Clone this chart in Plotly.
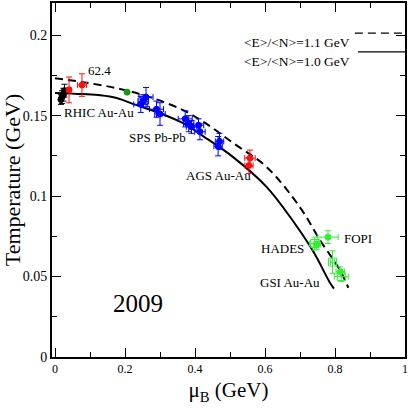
import plotly.graph_objects as go

# freeze-out curves
mu_e10 = [0.0, 0.08, 0.13, 0.176, 0.233, 0.30, 0.366, 0.425, 0.509, 0.605, 0.68, 0.738, 0.786, 0.797]
T_e10 = [0.1641, 0.1634, 0.1627, 0.161, 0.1565, 0.1515, 0.1453, 0.137, 0.1242, 0.1056, 0.0845, 0.0655, 0.046, 0.0425]

mu_e11 = [0.0, 0.08, 0.177, 0.271, 0.366, 0.43, 0.509, 0.605, 0.70, 0.757, 0.814, 0.838]
T_e11 = [0.1733, 0.1708, 0.167, 0.1615, 0.1534, 0.1453, 0.133, 0.118, 0.093, 0.0727, 0.054, 0.043]

# data points
mu_black = [0.017, 0.020, 0.024, 0.027]
T_black = [0.160, 0.1615, 0.163, 0.1655]
dT_black = [0.003, 0.004, 0.004, 0.004]

mu_rhic = [0.040, 0.077]
T_rhic = [0.166, 0.169]
dmu_rhic = [0.006, 0.013]
dT_rhic = [0.008, 0.007]

mu_dg = [0.206]
T_dg = [0.1646]

mu_sps = [0.245, 0.252, 0.26, 0.29, 0.30, 0.372, 0.382, 0.39, 0.41, 0.414, 0.47, 0.466]
T_sps = [0.157, 0.159, 0.1615, 0.154, 0.151, 0.148, 0.145, 0.143, 0.144, 0.140, 0.134, 0.131]
dmu_sps = [0.02, 0.015, 0.02, 0.02, 0.015, 0.02, 0.015, 0.015, 0.015, 0.015, 0.012, 0.012]
dT_sps = [0.005, 0.004, 0.006, 0.005, 0.007, 0.005, 0.005, 0.004, 0.004, 0.005, 0.005, 0.006]

mu_ags = [0.557, 0.554]
T_ags = [0.1236, 0.119]
dmu_ags = [0.015, 0.012]
dT_ags = [0.005, 0.005]

mu_gsi = [0.748, 0.780, 0.815]
T_gsi = [0.070, 0.0745, 0.053]
dmu_gsi = [0.01, 0.029, 0.012]
dT_gsi = [0.003, 0.004, 0.003]

mu_gsi_open = [0.742, 0.793, 0.818]
T_gsi_open = [0.0705, 0.059, 0.050]
dmu_gsi_open = [0.015, 0.006, 0.02]
dT_gsi_open = [0.004, 0.007, 0.003]

labels = ['62.4', 'RHIC Au-Au', 'SPS Pb-Pb', 'AGS Au-Au', 'HADES', 'FOPI', 'GSI Au-Au']
label_mu = [0.126, 0.126, 0.292, 0.466, 0.649, 0.866, 0.672]
label_T = [0.1783, 0.1522, 0.1366, 0.113, 0.0677, 0.0739, 0.0466]

FONT = 'Liberation Serif, Times New Roman, serif'
fig = go.Figure()

fig.add_trace(go.Scatter(x=mu_e11, y=T_e11, mode='lines', line_shape='spline',
                         line=dict(color='black', width=2, dash='8px,5px')))
fig.add_trace(go.Scatter(x=mu_e10, y=T_e10, mode='lines', line_shape='spline',
                         line=dict(color='black', width=2)))


def pts(x, y, color, dx=None, dy=None, symbol='circle', size=6):
    tr = go.Scatter(x=x, y=y, mode='markers',
                    marker=dict(color=color, size=size, symbol=symbol,
                                line=dict(color=color, width=1)))
    if dx is not None:
        tr.error_x = dict(type='data', array=dx, color=color, thickness=1, width=3)
    if dy is not None:
        tr.error_y = dict(type='data', array=dy, color=color, thickness=1, width=3)
    fig.add_trace(tr)


pts(mu_black, T_black, 'black', dx=None, dy=dT_black)
pts(mu_rhic, T_rhic, '#ff1010', dmu_rhic, dT_rhic)
pts(mu_dg, T_dg, '#119911')
pts(mu_sps, T_sps, '#0000ff', dmu_sps, dT_sps)
pts(mu_ags, T_ags, '#ff1010', dmu_ags, dT_ags)
pts(mu_gsi, T_gsi, '#33ee33', dmu_gsi, dT_gsi)
pts(mu_gsi_open, T_gsi_open, '#33ee33', dmu_gsi_open, dT_gsi_open, symbol='square-open', size=8)

for t, xx, yy in zip(labels, label_mu, label_T):
    fig.add_annotation(x=xx, y=yy, text=t, showarrow=False,
                       font=dict(family=FONT, size=13, color='black'))

fig.add_annotation(x=0.237, y=0.0335, text='2009', showarrow=False,
                   font=dict(family=FONT, size=25, color='black'))

# legend drawn by hand: text then line sample on the right
leg = [('&lt;E&gt;/&lt;N&gt;=1.1 GeV', 0.915, 0.858, '8px,5px'),
       ('&lt;E&gt;/&lt;N&gt;=1.0 GeV', 0.862, 0.867, 'solid')]
for t, yp, x0, d in leg:
    fig.add_annotation(xref='paper', yref='paper', x=0.85, y=yp, text=t,
                       showarrow=False, xanchor='right',
                       font=dict(family=FONT, size=13.5, color='black'))
    fig.add_shape(type='line', xref='paper', yref='paper', x0=x0, x1=1.0, y0=yp, y1=yp,
                  line=dict(color='black', width=1.3, dash=d))

fig.update_layout(
    width=409, height=411,
    margin=dict(l=52, r=4, t=3, b=54),
    paper_bgcolor='white', plot_bgcolor='white',
    showlegend=False,
    font=dict(family=FONT, color='black'),
)
fig.update_xaxes(range=[-0.0086, 1.0], showgrid=False, zeroline=False, automargin=False,
                 showline=True, linewidth=2, linecolor='black', mirror='allticks',
                 ticks='inside', ticklen=9, tickwidth=1, tickcolor='black',
                 tickvals=[0, 0.2, 0.4, 0.6, 0.8, 1.0],
                 ticktext=['0', '0.2', '0.4', '0.6', '0.8', '1'],
                 tickfont=dict(family=FONT, size=12),
                 minor=dict(dtick=0.1, tick0=0, ticks='inside', ticklen=5, tickcolor='black'),
                 title=dict(text='μ<sub>B</sub> (GeV)', font=dict(family=FONT, size=21), standoff=7))
fig.update_yaxes(range=[0, 0.22], showgrid=False, zeroline=False, automargin=False,
                 showline=True, linewidth=2, linecolor='black', mirror='allticks',
                 ticks='inside', ticklen=9, tickwidth=1, tickcolor='black',
                 tickvals=[0, 0.05, 0.1, 0.15, 0.2],
                 ticktext=['0', '0.05', '0.1', '0.15', '0.2'],
                 tickfont=dict(family=FONT, size=14),
                 minor=dict(dtick=0.025, tick0=0, ticks='inside', ticklen=5, tickcolor='black'),
                 title=dict(text='Temperature (GeV)', font=dict(family=FONT, size=22), standoff=2))

# page body has a default 8px margin; drop it so the figure sits at the corner
fig.write_html("out.html", config={'displayModeBar': False},
               post_script="document.body.style.margin='0';")
